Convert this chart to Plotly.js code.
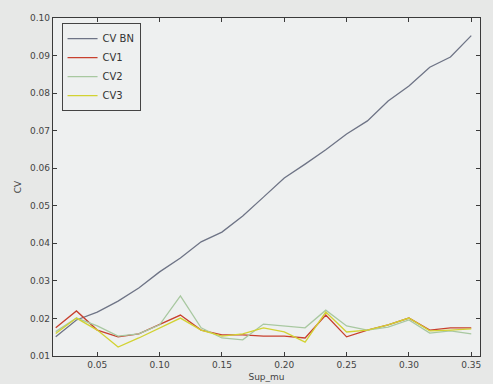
<!DOCTYPE html>
<html>
<head>
<meta charset="utf-8">
<script src="https://cdn.plot.ly/plotly-3.0.1.min.js"></script>
<style>html,body{margin:0;padding:0;background:#e7e8e7;}#chart{width:493px;height:384px;}</style>
</head>
<body>
<div id="chart"></div>
<script>
// x values: Sup_mu
const supMu = [0.0167,0.0333,0.05,0.0667,0.0833,0.10,0.1167,0.1333,0.15,0.1667,0.1833,0.20,0.2167,0.2333,0.25,0.2667,0.2833,0.30,0.3167,0.3333,0.35];
const cvBN = [0.0151,0.0196,0.0217,0.0246,0.0281,0.0324,0.0361,0.0404,0.0430,0.0473,0.0523,0.0574,0.0611,0.0649,0.0691,0.0726,0.0779,0.0819,0.0869,0.0896,0.0953];
const cv1  = [0.0175,0.0220,0.0169,0.0151,0.0159,0.0183,0.0209,0.0169,0.0156,0.0156,0.0153,0.0153,0.0148,0.0209,0.0151,0.0169,0.0183,0.0201,0.0169,0.0175,0.0175];
const cv2  = [0.0165,0.0201,0.0180,0.0153,0.0159,0.0183,0.0260,0.0175,0.0148,0.0143,0.0185,0.0180,0.0175,0.0222,0.0180,0.0169,0.0177,0.0196,0.0161,0.0167,0.0159];
const cv3  = [0.0160,0.0201,0.0169,0.0124,0.0148,0.0175,0.0201,0.0169,0.0153,0.0159,0.0175,0.0164,0.0137,0.0217,0.0164,0.0169,0.0183,0.0201,0.0167,0.0169,0.0172];
const seriesNames = ["CV BN","CV1","CV2","CV3"];
const xTicks = [0.05,0.10,0.15,0.20,0.25,0.30,0.35];
const xTickText = ["0.05","0.10","0.15","0.20","0.25","0.30","0.35"];
const yTicks = [0.01,0.02,0.03,0.04,0.05,0.06,0.07,0.08,0.09,0.10];
const yTickText = ["0.01","0.02","0.03","0.04","0.05","0.06","0.07","0.08","0.09","0.10"];

const colors = ["#6e7486","#c8402e","#a8c8a0","#d2d232"];
const ys = [cvBN, cv1, cv2, cv3];
const traces = ys.map((y,i)=>({
  x: supMu, y: y, type:'scatter', mode:'lines', name: seriesNames[i],
  line:{color:colors[i], width:1.3}
}));

const axisCommon = {
  showline:true, linecolor:'#3a3a3a', linewidth:1.2, mirror:'ticks',
  ticks:'inside', ticklen:4, tickcolor:'#3a3a3a', showgrid:false, zeroline:false,
  tickfont:{family:'DejaVu Sans', size:9, color:'#444'}
};
const layout = {
  width:493, height:384,
  margin:{l:53, r:13, t:18, b:28},
  paper_bgcolor:'#e7e8e7', plot_bgcolor:'#eef0f0',
  showlegend:true,
  legend:{x:0.02, y:0.985, xanchor:'left', yanchor:'top', bgcolor:'#eef0f0',
    bordercolor:'#444', borderwidth:1, font:{family:'DejaVu Sans', size:10, color:'#333'},
    tracegroupgap:0, itemwidth:30},
  xaxis: Object.assign({}, axisCommon, {range:[0.0145,0.357], tickvals:xTicks, ticktext:xTickText,
    title:{text:'Sup_mu', font:{family:'DejaVu Sans', size:9, color:'#444'}, standoff:4}}),
  yaxis: Object.assign({}, axisCommon, {range:[0.01,0.10], tickvals:yTicks, ticktext:yTickText,
    title:{text:'CV', font:{family:'DejaVu Sans', size:9, color:'#444'}, standoff:6}})
};
Plotly.newPlot('chart', traces, layout, {staticPlot:true, displayModeBar:false});
</script>
</body>
</html>
